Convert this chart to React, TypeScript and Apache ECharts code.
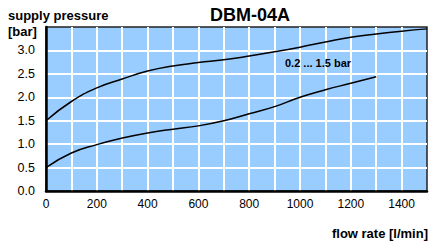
import React, { useEffect, useRef } from "react";
import * as echarts from "echarts";

const upperFlow = [0, 100, 200, 300, 400, 500, 600, 700, 800, 900, 1000, 1100, 1200, 1300, 1400, 1500];
const upperPressure = [1.5, 1.91, 2.2, 2.39, 2.56, 2.67, 2.74, 2.8, 2.88, 2.97, 3.07, 3.18, 3.28, 3.35, 3.41, 3.46];
const lowerFlow = [0, 100, 200, 300, 400, 500, 600, 700, 800, 900, 1000, 1100, 1200, 1300];
const lowerPressure = [0.5, 0.81, 0.99, 1.13, 1.24, 1.32, 1.39, 1.5, 1.65, 1.8, 2.0, 2.16, 2.3, 2.44];

const titleText = "DBM-04A";
const yAxisTitle = ["supply pressure", "[bar]"];
const xAxisTitle = "flow rate [l/min]";
const curveLabel = "0.2 ... 1.5 bar";

const FONT = '"Liberation Sans", Arial, sans-serif';

export default function App() {
  const ref = useRef<HTMLDivElement>(null);
  useEffect(() => {
    if (!ref.current) return;
    const chart = echarts.init(ref.current, undefined, { renderer: "svg" });
    const pairs = (xs: number[], ys: number[]) => xs.map((x, i) => [x, ys[i]]);
    chart.setOption({
      animation: false,
      grid: {
        left: 46,
        right: 3,
        top: 27,
        bottom: 57,
        show: true,
        backgroundColor: "#99CCFF",
        borderColor: "#222",
        borderWidth: 1.5,
      },
      xAxis: {
        type: "value",
        min: 0,
        max: 1500,
        interval: 100,
        axisLine: { show: true, onZero: false, lineStyle: { color: "#000", width: 2.5 } },
        axisTick: { show: false },
        splitLine: { show: true, showMinLine: false, showMaxLine: false, lineStyle: { color: "#fff", width: 2 } },
        axisLabel: {
          margin: 7,
          color: "#000",
          fontFamily: FONT,
          fontSize: 12,
          formatter: (v: number) => (v % 200 === 0 && v < 1500 ? String(v) : ""),
        },
      },
      yAxis: {
        type: "value",
        min: 0,
        max: 3.5,
        interval: 0.5,
        axisLine: { show: true, onZero: false, lineStyle: { color: "#000", width: 2.5 } },
        axisTick: { show: false },
        splitLine: { show: true, showMinLine: false, showMaxLine: false, lineStyle: { color: "#fff", width: 2 } },
        axisLabel: {
          margin: 11,
          color: "#000",
          fontFamily: FONT,
          fontSize: 12.5,
          formatter: (v: number) => (v < 3.5 ? v.toFixed(1) : ""),
        },
      },
      series: [
        {
          type: "line",
          data: pairs(upperFlow, upperPressure),
          smooth: true,
          symbol: "none",
          lineStyle: { color: "#000", width: 1.5 },
        },
        {
          type: "line",
          data: pairs(lowerFlow, lowerPressure),
          smooth: true,
          symbol: "none",
          lineStyle: { color: "#000", width: 1.5 },
        },
      ],
      graphic: [
        {
          type: "text",
          x: 250,
          y: 15,
          style: { text: titleText, font: `bold 18px ${FONT}`, fill: "#000", textAlign: "center", textVerticalAlign: "middle" },
        },
        {
          type: "text",
          x: 8,
          y: 15,
          style: { text: yAxisTitle[0], font: `bold 13px ${FONT}`, fill: "#000", textAlign: "left", textVerticalAlign: "middle" },
        },
        {
          type: "text",
          x: 8,
          y: 31,
          style: { text: yAxisTitle[1], font: `bold 13px ${FONT}`, fill: "#000", textAlign: "left", textVerticalAlign: "middle" },
        },
        {
          type: "text",
          x: 428,
          y: 233,
          style: { text: xAxisTitle, font: `bold 13px ${FONT}`, fill: "#000", textAlign: "right", textVerticalAlign: "middle" },
        },
        {
          type: "text",
          x: 285,
          y: 63,
          z: 10,
          style: { text: curveLabel, font: `bold 11px ${FONT}`, fill: "#000", textAlign: "left", textVerticalAlign: "middle" },
        },
      ],
    });
    return () => chart.dispose();
  }, []);
  return <div ref={ref} style={{ width: 430, height: 248, position: "absolute", left: 0, top: 0 }} />;
}
